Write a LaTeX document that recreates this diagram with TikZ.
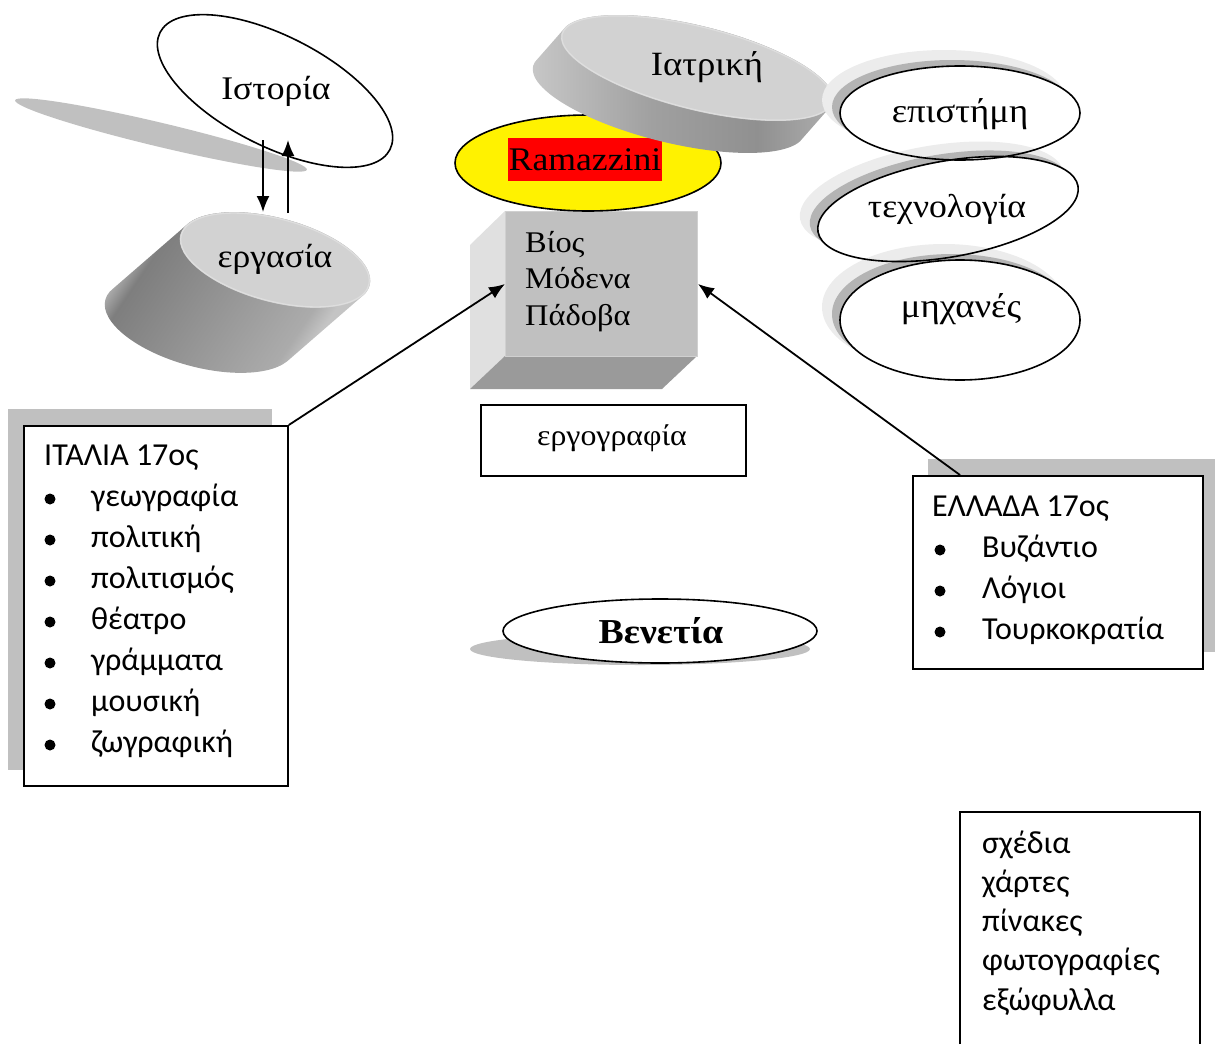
\documentclass[tikz,border=0pt]{standalone}
\usepackage{fontspec}
\setmainfont{Liberation Serif}[FakeStretch=1.08]
\newfontfamily\calfont{Carlito}
\usetikzlibrary{arrows.meta,shapes.geometric}
\definecolor{shgray}{HTML}{C0C0C0}
\definecolor{topgray}{HTML}{D2D2D2}
\definecolor{rimgray}{HTML}{DEDEDE}
\definecolor{sideL}{HTML}{E0E0E0}
\definecolor{sideB}{HTML}{9A9A9A}
\definecolor{frontgray}{HTML}{C0C0C0}
\definecolor{frontedge}{HTML}{D0D0D0}
\definecolor{shlight}{HTML}{ECECEC}
\definecolor{shdark}{HTML}{B4B4B4}
\definecolor{cylL}{HTML}{AEAEAE}
\definecolor{cylD}{HTML}{7E7E7E}
\definecolor{cylM}{HTML}{949494}
\definecolor{cylR}{HTML}{ABABAB}
\definecolor{cylE}{HTML}{C4C4C4}
\definecolor{dL}{HTML}{C8C8C8}
\definecolor{dM}{HTML}{A0A0A0}
\definecolor{dD}{HTML}{909090}
\definecolor{dR}{HTML}{B0B0B0}
\pgfdeclarehorizontalshading{cylbody}{100bp}{color(0bp)=(cylL); color(27bp)=(cylL); color(31bp)=(cylD); color(48bp)=(cylM); color(66bp)=(cylR); color(70bp)=(cylE); color(100bp)=(cylE)}
\pgfdeclarehorizontalshading{diskbody}{100bp}{color(0bp)=(dL); color(25bp)=(dL); color(45bp)=(dM); color(62bp)=(dD); color(75bp)=(dR); color(100bp)=(dR)}
\begin{document}
\begin{tikzpicture}[x=1pt,y=1pt,
  outl/.style={draw=black, line width=1.6pt},
  boxn/.style={draw=black, line width=1.8pt, fill=white, inner sep=0pt, anchor=north west},
  arr/.style={line width=1.8pt, -{Latex[length=16pt,width=13pt]}},
  ser/.style={font=\fontsize{#1}{#1}\selectfont, inner sep=0pt, anchor=base},
  serw/.style={font=\fontsize{#1}{#1}\selectfont, inner sep=0pt, anchor=base west},
  cal/.style={font=\calfont\fontsize{32}{41}\selectfont, inner sep=0pt, anchor=base west},
  dotn/.style={circle, fill=black, inner sep=0pt, minimum size=11pt},
]
\useasboundingbox (0,0) rectangle (1215,-1044);

% Istoria
\fill[shgray, rotate around={-13.4:(161,-135)}] (161,-135) ellipse (150 and 12);
\draw[outl, rotate around={-27:(275,-91)}] (275,-91) ellipse (129 and 55);
\node[ser=33] (istoria) at (276,-99) {Ιστορία};

% ergasia cylinder
\begin{scope}[shift={(275,-260)}, rotate=-15]
  \shade[shading=cylbody, shading angle=-34] \foreach \i in {0,...,40}{(\i*-1.39,\i*-2.055) ellipse (98 and 42)};
  \fill[topgray] (0,0) ellipse (98 and 42);
  \draw[rimgray, line width=1.2pt] (0,0) ellipse (97 and 41);
\end{scope}
\node[ser=33] (ergasia) at (275,-267) {εργασία};

% arrows Istoria <-> ergasia
\coordinate (d1s) at (263,-140);
\coordinate (d1e) at (263,-212);
\coordinate (u1s) at (288,-213);
\coordinate (u1e) at (288,-140);
\draw[arr] (d1s) -- (d1e);
\draw[arr] (u1s) -- (u1e);

% cube
\fill[sideL] (470,-245) -- (505,-211) -- (505,-356) -- (470,-389) -- cycle;
\fill[sideB] (505,-356) -- (697,-356) -- (662,-389) -- (470,-389) -- cycle;
\node[fill=frontgray, draw=frontedge, line width=1pt, minimum width=192pt, minimum height=145pt, anchor=north west, inner sep=0pt] (cube) at (505,-211) {};
\node[serw=30] (bios) at (525,-252) {Βίος};
\node[serw=30] (modena) at (525,-288) {Μόδενα};
\node[serw=30] (padova) at (525,-325) {Πάδοβα};

% Ramazzini
\draw[outl, fill=yellow] (588,-163) ellipse (133 and 48);
\node[fill=red, font=\fontsize{33}{33}\selectfont, inner xsep=1pt, inner ysep=0pt, text height=32pt, text depth=11pt, anchor=base] (ram) at (585,-170) {Ramazzini};

% Iatriki disk
\begin{scope}[shift={(697,-68)}, rotate=-14]
  \shade[shading=diskbody] \foreach \i in {0,...,30}{(\i*-0.65,\i*-1.26) ellipse (140 and 42)};
  \fill[topgray] (0,0) ellipse (140 and 42);
  \draw[rimgray, line width=1.2pt] (0,0) ellipse (139 and 41);
\end{scope}
\node[ser=34] (iatriki) at (707,-75) {Ιατρική};

% right ellipses with shadows
\fill[shlight] (944,-100) ellipse (122 and 50);
\fill[shdark] (952,-107) ellipse (120 and 47);
\fill[white] (960,-113) ellipse (120 and 47);
\begin{scope}[shift={(948,-209)}]
  \fill[shlight, shift={(-16,13)}, rotate=10] (0,0) ellipse (134 and 50);
  \fill[shdark, shift={(-8,6)}, rotate=10] (0,0) ellipse (132 and 48);
  \fill[white, rotate=10] (0,0) ellipse (132 and 48);
\end{scope}
\fill[shlight] (944,-307) ellipse (122 and 63);
\fill[shdark] (952,-314) ellipse (120 and 60);
\fill[white] (960,-320) ellipse (120 and 60);
\draw[outl] (960,-113) ellipse (120 and 47);
\draw[outl, rotate around={10:(948,-209)}] (948,-209) ellipse (132 and 48);
\draw[outl] (960,-320) ellipse (120 and 60);
\node[ser=34] (episteme) at (960,-122) {επιστήμη};
\node[ser=33] (techno) at (947,-217) {τεχνολογία};
\node[ser=34] (mechanes) at (961,-317) {μηχανές};

% ergografia box
\node[boxn, minimum width=265pt, minimum height=71pt] (ergbox) at (480,-404) {};
\node[ser=29.5] (ergtext) at (612,-445) {εργογραφία};

% Venetia
\fill[shgray] (640,-649) ellipse (170 and 16);
\draw[outl, fill=white] (660,-631) ellipse (157 and 32);
\node[font=\fontsize{35}{35}\selectfont\bfseries, inner sep=0pt, anchor=base] (venetia) at (661,-643) {Βενετία};

% ITALIA box
\fill[shgray] (8,-409) rectangle (272,-770);
\node[boxn, minimum width=264pt, minimum height=360pt] (italia) at (23,-425) {};
\node[cal] (ith) at (44,-465) {ΙΤΑΛΙΑ 17ος};
\foreach \t [count=\k] in {γεωγραφία,πολιτική,πολιτισμός,θέατρο,γράμματα,μουσική,ζωγραφική}{
  \node[cal] (it\k) at (91,-465-41*\k) {\t};
  \node[dotn] (ib\k) at (50,-458-41*\k) {};
}

% ELLADA box
\fill[shgray] (928,-459) rectangle (1215,-652);
\node[boxn, minimum width=290pt, minimum height=193pt] (greece) at (912,-475) {};
\node[cal] (grh) at (932,-516) {ΕΛΛΑΔΑ 17ος};
\foreach \t [count=\k] in {Βυζάντιο,Λόγιοι,Τουρκοκρατία}{
  \node[cal] (gr\k) at (982,-516-41*\k) {\t};
  \node[dotn] (gb\k) at (940,-509-41*\k) {};
}

% arrows to cube
\coordinate (gstart) at (960,-475);
\draw[arr] (italia.north east) -- (cube.west);
\draw[arr] (gstart) -- (cube.east);

% bottom right box
\draw[line width=1.8pt] (960,-1044) -- (960,-812) -- (1200,-812) -- (1200,-1044);
\foreach \t [count=\k] in {σχέδια,χάρτες,πίνακες,φωτογραφίες,εξώφυλλα}{
  \node[cal] (br\k) at (982,-814-39.2*\k) {\t};
}
\end{tikzpicture}
\end{document}
